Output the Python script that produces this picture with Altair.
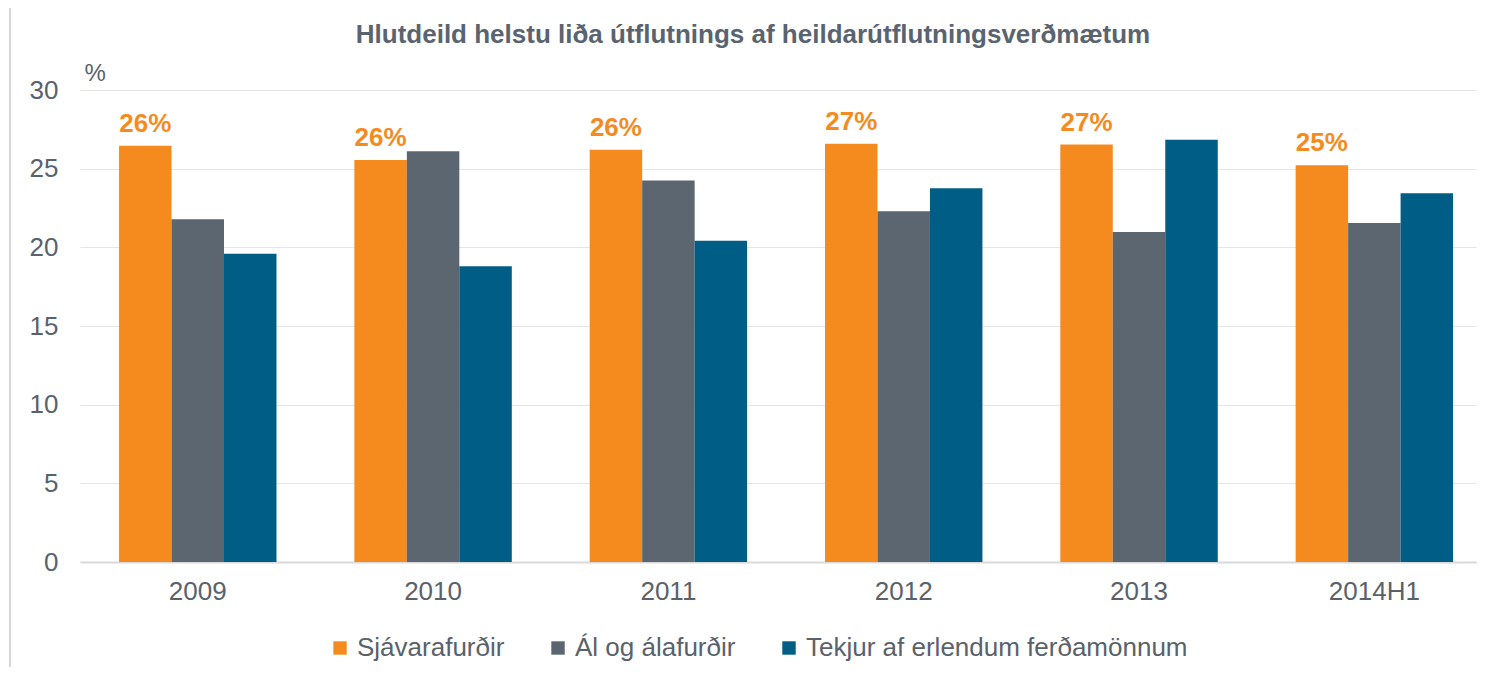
import altair as alt
import pandas as pd

categories = ["2009", "2010", "2011", "2012", "2013", "2014H1"]
series = ["Sjávarafurðir", "Ál og álafurðir", "Tekjur af erlendum ferðamönnum"]
sjavar = [26.46, 25.55, 26.2, 26.59, 26.53, 25.22]
al = [21.78, 26.1, 24.24, 22.29, 20.97, 21.55]
ferda = [19.59, 18.79, 20.42, 23.75, 26.84, 23.43]
colors = ["#F58B1F", "#5C6670", "#005D85"]
y_ticks = [0, 5, 10, 15, 20, 25, 30]
title_text = "Hlutdeild  helstu liða útflutnings af heildarútflutningsverðmætum"

rows = []
for i, c in enumerate(categories):
    for s, vals in zip(series, [sjavar, al, ferda]):
        rows.append({"year": c, "series": s, "value": vals[i]})
df = pd.DataFrame(rows)

label_df = pd.DataFrame({
    "year": categories,
    "series": [series[0]] * len(categories),
    "value": sjavar,
    "label": [f"{int(v + 0.5)}%" for v in sjavar],
})

FONT = "Liberation Sans"
TXT = "#59626C"

x_enc = alt.X(
    "year:N", sort=categories,
    scale=alt.Scale(paddingInner=0.331, paddingOuter=0.1317, align=0.63),
    axis=alt.Axis(title=None, labelAngle=0, labelFontSize=26, labelColor=TXT,
                  labelFont=FONT, labelPadding=16, ticks=False,
                  domainColor="#D9D9D9", domainWidth=2),
)
xoff_enc = alt.XOffset("series:N", sort=series,
                       scale=alt.Scale(domain=series, paddingInner=0, paddingOuter=0))
y_enc = alt.Y(
    "value:Q",
    scale=alt.Scale(domain=[0, 30], nice=False),
    axis=alt.Axis(values=y_ticks, title="%", titleAngle=0, titleX=4, titleY=-10,
                  titleAlign="left", titleBaseline="alphabetic", titleFontSize=24,
                  titleFontWeight="normal", titleColor=TXT, titleFont=FONT,
                  labelFontSize=26, labelColor=TXT, labelFont=FONT, labelPadding=22,
                  domain=False, ticks=False, gridColor="#E6E6E6", gridWidth=1.2),
)

bars = alt.Chart(df).mark_bar().encode(
    x=x_enc,
    xOffset=xoff_enc,
    y=y_enc,
    color=alt.Color(
        "series:N", sort=series,
        scale=alt.Scale(domain=series, range=colors),
        legend=alt.Legend(orient="none", legendX=247, legendY=545,
                          direction="horizontal", title=None, symbolType="square",
                          symbolSize=180, symbolStrokeWidth=0, labelFontSize=26,
                          labelColor=TXT, labelFont=FONT, columnPadding=40,
                          labelOffset=4, labelLimit=600),
    ),
)

labels = alt.Chart(label_df).mark_text(
    dy=-14, baseline="alphabetic", align="center", fontSize=26,
    fontWeight="bold", color=colors[0], font=FONT,
).encode(
    x=alt.X("year:N", sort=categories),
    xOffset=alt.XOffset("series:N", sort=series),
    y=alt.Y("value:Q"),
    text="label:N",
)

frame = alt.Chart(pd.DataFrame({"a": [0]})).mark_rule(
    color="#C8C8C8", strokeWidth=1.5
).encode(x=alt.value(-70), y=alt.value(-87), y2=alt.value(600))

chart = alt.layer(bars, labels, frame).properties(
    width=1396,
    height=472,
    padding={"left": 72, "top": 82, "right": 1, "bottom": 105},
    autosize=alt.AutoSizeParams(type="none"),
    title=alt.Title(title_text, fontSize=26, fontWeight="bold", color="#5A6470",
                    font=FONT, anchor="middle", offset=0, dx=-25, dy=46),
).configure(background="white").configure_view(stroke=None)

chart.save("out.html", embed_options={"renderer": "svg", "actions": False})
